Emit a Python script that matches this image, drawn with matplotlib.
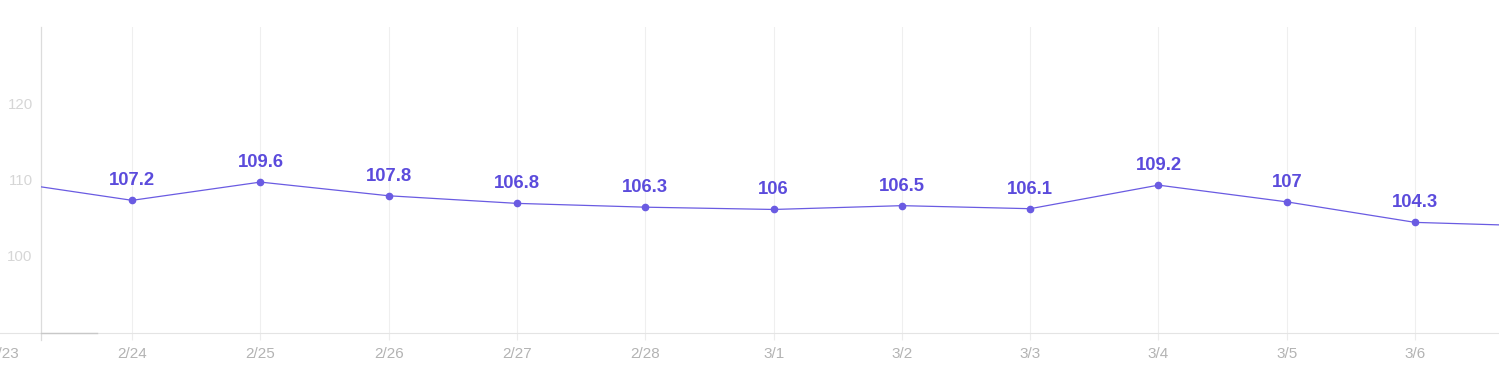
import matplotlib.pyplot as plt
from matplotlib.lines import Line2D
from matplotlib.patches import Rectangle

# data (first and last points sit outside the visible area)
dates = ['2/23', '2/24', '2/25', '2/26', '2/27', '2/28', '3/1',
         '3/2', '3/3', '3/4', '3/5', '3/6', '3/7']
values = [109.7, 107.2, 109.6, 107.8, 106.8, 106.3, 106.0,
          106.5, 106.1, 109.2, 107.0, 104.3, 103.8]
labels = ['', '107.2', '109.6', '107.8', '106.8', '106.3', '106',
          '106.5', '106.1', '109.2', '107', '104.3', '']
yticks = [100, 110, 120]

LINE = '#6a5be2'
TEXT = '#5b4bdc'

plt.rcParams['font.family'] = ['Liberation Sans', 'DejaVu Sans']

W, H = 1499, 377
fig = plt.figure(figsize=(W / 100, H / 100), dpi=100)
ax = fig.add_axes([0, 1 - 333 / H, 1, (333 - 27) / H])

x = list(range(len(dates)))
ax.set_xlim(-0.0296, 11.654)
ax.set_ylim(89.75, 130)

# plot area starts where the y axis is drawn
left_frac = 41 / W
clip = Rectangle((left_frac, -0.1), 1 - left_frac, 1.2, transform=ax.transAxes)

line, = ax.plot(x, values, color=LINE, lw=0.9, marker='o', ms=4.5,
                mfc=LINE, mec=LINE, zorder=3)
line.set_clip_path(clip)

for xi, v, lab in zip(x, values, labels):
    if lab:
        ax.annotate(lab, (xi, v), xytext=(0, 8), textcoords='offset points',
                    ha='center', va='bottom', fontsize=13.3, fontweight='bold',
                    color=TEXT)

# grid / axes styling
for s in ['top', 'right', 'left']:
    ax.spines[s].set_visible(False)
ax.spines['bottom'].set_color('#e4e4e4')
ax.spines['bottom'].set_linewidth(0.8)

ax.set_xticks(x[:12])
ax.set_xticklabels(dates[:12])
ax.tick_params(axis='x', length=5, width=0.8, color='#ececec', pad=5,
               labelsize=11, labelcolor='#b3b3b3')
ax.grid(axis='x', color='#efefef', lw=0.8)

# first date is left of the plot area: hide its grid line and tick mark
first = ax.xaxis.get_major_ticks()[0]
first.gridline.set_visible(False)
first.tick1line.set_visible(False)

ax.set_yticks(yticks)
ax.set_yticklabels([str(t) for t in yticks])
ax.tick_params(axis='y', length=0, pad=-23.5, labelsize=10.8, labelcolor='#d6d6d6')

# y axis line and small scroll marker on the baseline
ax.add_line(Line2D([left_frac, left_frac], [-0.023, 1], transform=ax.transAxes,
                   color='#dcdcdc', lw=0.9, clip_on=False))
ax.add_line(Line2D([left_frac, 97 / W], [0, 0], transform=ax.transAxes,
                   color='#c8c8c8', lw=1.0, clip_on=False, zorder=4))

fig.savefig('out.png', dpi=100, facecolor='white')
